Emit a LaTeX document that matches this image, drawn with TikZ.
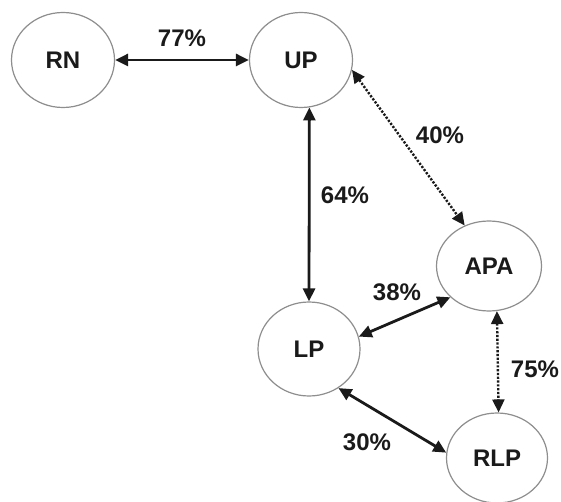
\documentclass[tikz,border=0pt]{standalone}
\usepackage{fontspec}
\setmainfont{Liberation Sans}
\usetikzlibrary{shapes.geometric,arrows.meta}
\definecolor{ringgray}{HTML}{8E8E8E}
\definecolor{inkk}{HTML}{1A1A1A}
\tikzset{
  state/.style={ellipse, draw=ringgray, line width=1.2pt, inner sep=0pt, fill=white,
    font=\fontsize{24}{27}\selectfont\bfseries, text=inkk},
  tipp/.tip={Triangle[length=13pt,width=12pt]},
  link/.style={line width=2.8pt, draw=inkk, tipp-tipp},
  dotlink/.style={line width=2.4pt, draw=inkk, dash pattern=on 2.2pt off 1.6pt, tipp-tipp},
  pct/.style={font=\fontsize{24}{27}\selectfont\bfseries, text=inkk, inner sep=0pt}
}
\begin{document}
\begin{tikzpicture}[x=1pt,y=-1pt]
\useasboundingbox (0,0) rectangle (561,502);
\node[state, minimum width=103pt, minimum height=95pt] (RN) at (63,60) {RN};
\node[state, minimum width=103pt, minimum height=95pt] (UP) at (301,60) {UP};
\node[state, minimum width=105pt, minimum height=90pt] (APA) at (489,266) {APA};
\node[state, minimum width=102pt, minimum height=94pt] (LP) at (309,349) {LP};
\node[state, minimum width=101pt, minimum height=90pt] (RLP) at (497,458) {RLP};

\draw[link] (RN.east) -- (UP.west);
\draw[link] (UP.-80) -- (LP.north);
\draw[dotlink] (UP.-11) -- (APA.121);
\draw[link] (LP.14) -- (APA.219);
\draw[dotlink] (APA.-80) -- (RLP.88);
\draw[link] (LP.-53) -- (RLP.174);

\node[pct] (l77) at (182,38) {77\%};
\node[pct] (l64) at (345,195) {64\%};
\node[pct] (l40) at (440,135) {40\%};
\node[pct] (l38) at (397,292) {38\%};
\node[pct] (l75) at (535,369) {75\%};
\node[pct] (l30) at (367,442) {30\%};
\end{tikzpicture}
\end{document}
